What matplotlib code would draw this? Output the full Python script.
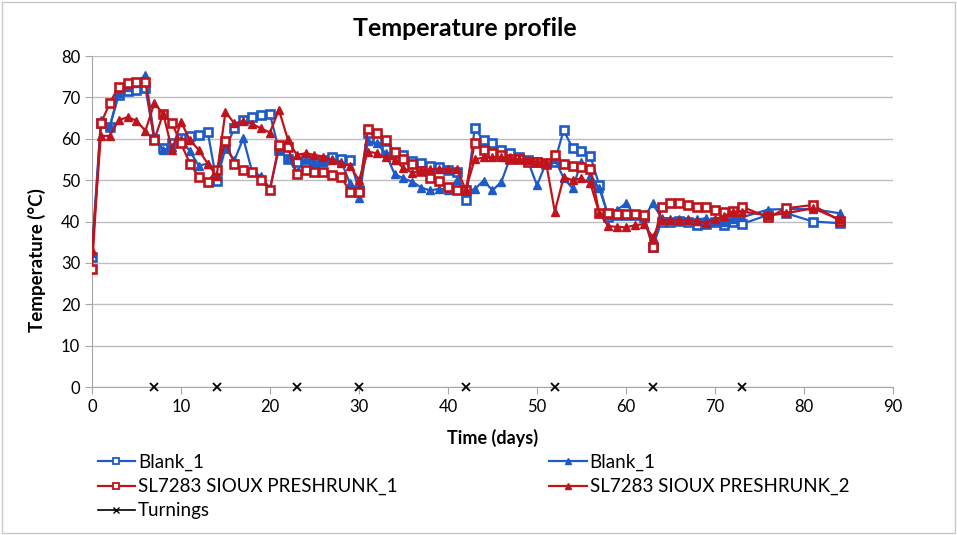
import matplotlib.pyplot as plt
from matplotlib.lines import Line2D
from matplotlib.patches import Rectangle

plt.rcParams['font.family'] = ['Lato', 'DejaVu Sans']

days = [0, 1, 2, 3, 4, 5, 6, 7, 8, 9, 10, 11, 12, 13, 14, 15, 16, 17, 18, 19,
        20, 21, 22, 23, 24, 25, 26, 27, 28, 29, 30, 31, 32, 33, 34, 35, 36, 37, 38, 39,
        40, 41, 42, 43, 44, 45, 46, 47, 48, 49, 50, 51, 52, 53, 54, 55, 56, 57, 58, 59,
        60, 61, 62, 63, 64, 65, 66, 67, 68, 69, 70, 71, 72, 73, 76, 78, 81, 84]

blank_sq = [31.5, 63.7, 62.9, 70.6, 71.6, 71.9, 72.3, 60.0, 57.7, 58.9, 60.3, 60.6, 60.9, 61.7, 49.8, 57.7, 62.5, 64.5, 65.3, 65.7,
            65.9, 57.4, 55.0, 54.5, 55.0, 54.5, 54.9, 55.5, 55.0, 54.9, 47.6, 61.5, 60.0, 57.5, 56.5, 56.1, 54.7, 54.2, 53.4, 53.1,
            52.5, 51.9, 45.2, 62.5, 59.7, 59.0, 57.4, 56.5, 55.5, 54.8, 54.5, 54.0, 54.5, 62.1, 57.7, 57.0, 55.8, 48.8, 41.2, 41.5,
            41.5, 41.6, 41.2, 33.8, 40.0, 40.0, 40.1, 40.0, 39.1, 39.5, 40.0, 39.1, 40.0, 39.4, 41.6, 42.0, 40.0, 39.6]

blank_tri = [32.5, 64.5, 63.0, 71.0, 72.5, 73.5, 75.4, 60.5, 57.3, 58.0, 60.0, 57.0, 53.5, 54.0, 51.5, 57.7, 54.8, 60.1, 52.0, 51.0,
             48.0, 57.4, 55.3, 52.0, 55.0, 54.5, 54.5, 55.0, 54.5, 49.2, 45.6, 59.5, 58.9, 56.5, 51.5, 50.4, 49.6, 48.2, 47.5, 47.9,
             47.7, 50.0, 47.3, 47.8, 49.9, 47.5, 49.6, 55.5, 55.0, 54.5, 48.8, 54.0, 55.0, 50.5, 48.0, 54.5, 51.0, 48.0, 41.6, 42.8,
             44.4, 41.6, 40.8, 44.4, 40.8, 40.5, 40.5, 40.5, 40.5, 40.8, 40.0, 40.0, 40.5, 41.0, 42.9, 43.0, 43.0, 42.0]

sioux_1 = [28.5, 63.7, 68.6, 72.6, 73.5, 73.8, 73.8, 59.7, 66.1, 63.7, 58.9, 54.0, 50.8, 49.6, 52.4, 59.4, 53.9, 52.4, 52.0, 50.0,
           47.6, 58.5, 58.0, 51.6, 52.4, 52.0, 52.0, 51.2, 50.7, 47.2, 47.2, 62.3, 61.5, 59.7, 56.9, 55.0, 53.8, 52.2, 50.6, 49.8,
           48.4, 47.7, 47.7, 58.9, 57.3, 56.5, 56.1, 55.2, 55.0, 54.5, 54.3, 54.1, 56.1, 54.0, 53.4, 53.1, 52.6, 42.1, 42.0, 41.9,
           41.8, 41.7, 41.6, 33.9, 43.6, 44.4, 44.4, 44.0, 43.6, 43.4, 42.9, 42.4, 42.6, 43.6, 41.0, 43.2, 44.0, 40.2]

sioux_2 = [33.0, 60.7, 60.7, 64.5, 65.2, 64.4, 61.9, 68.6, 66.1, 57.3, 64.1, 59.7, 57.3, 54.0, 51.0, 66.5, 63.7, 64.3, 63.6, 62.5,
           61.5, 67.0, 59.9, 56.1, 56.5, 56.1, 55.7, 54.9, 54.1, 53.4, 50.0, 56.9, 56.5, 55.5, 54.9, 52.9, 51.8, 52.4, 52.6, 52.8,
           52.6, 52.6, 47.7, 55.0, 55.5, 55.5, 55.5, 55.3, 55.0, 54.8, 54.5, 54.5, 42.4, 50.7, 50.0, 50.4, 49.2, 42.0, 38.9, 38.7,
           38.6, 39.1, 39.4, 36.2, 40.4, 40.4, 40.4, 40.3, 40.1, 39.7, 40.5, 41.3, 42.4, 42.4, 41.5, 42.0, 43.2, 40.5]

turn_days = [7, 14, 23, 30, 42, 52, 63, 73]
turn_vals = [0, 0, 0, 0, 0, 0, 0, 0]

blue = '#1F5BC6'
red = '#C0141C'

fig = plt.figure(figsize=(9.57, 5.35), dpi=100)
ax = fig.add_axes([0.0961, 0.2766, 0.8370, 0.6187])

ax.plot(days, blank_sq, color=blue, lw=1.6, marker='s', ms=5.5, mfc='white', mec=blue, mew=1.9, label='Blank_1', zorder=3)
ax.plot(days, blank_tri, color=blue, lw=1.6, marker='^', ms=6, mfc=blue, mec=blue, label='Blank_1', zorder=3)
ax.plot(days, sioux_1, color=red, lw=1.6, marker='s', ms=5.5, mfc='white', mec=red, mew=1.9, label='SL7283 SIOUX PRESHRUNK_1', zorder=4)
ax.plot(days, sioux_2, color=red, lw=1.6, marker='^', ms=6, mfc=red, mec=red, label='SL7283 SIOUX PRESHRUNK_2', zorder=4)
ax.plot(turn_days, turn_vals, ls='none', marker='x', ms=6, mew=1.3, color='black', clip_on=False, zorder=5)

ax.set_xlim(0, 90)
ax.set_ylim(0, 80)
ax.set_xticks(range(0, 91, 10))
ax.set_yticks(range(0, 81, 10))
ax.grid(axis='y', color='#BDBDBD', lw=1)
ax.set_axisbelow(True)
for s in ['top', 'right']:
    ax.spines[s].set_visible(False)
for s in ['left', 'bottom']:
    ax.spines[s].set_color('#A6A6A6')
ax.tick_params(axis='both', colors='#A6A6A6', labelcolor='black', labelsize=12, length=5)

fig.text(0.486, 0.946, 'Temperature profile', fontsize=18, fontweight='bold', ha='center', va='center')
ax.set_xlabel('Time (days)', fontsize=13, fontweight='bold', labelpad=10)
ax.set_ylabel('Temperature (°C)', fontsize=13.5, fontweight='bold')
ax.yaxis.set_label_coords(-0.058, 0.385)

h_b1 = Line2D([], [], color=blue, lw=1.6, marker='s', ms=4, mfc='white', mec=blue, mew=1.3)
h_b2 = Line2D([], [], color=blue, lw=1.6, marker='^', ms=4.5, mfc=blue, mec=blue)
h_r1 = Line2D([], [], color=red, lw=1.6, marker='s', ms=4, mfc='white', mec=red, mew=1.3)
h_r2 = Line2D([], [], color=red, lw=1.6, marker='^', ms=4.5, mfc=red, mec=red)
h_t = Line2D([], [], color='black', lw=1.2, marker='x', ms=5, mew=1)

leg_kw = dict(loc='upper left', frameon=False, fontsize=13.5, handlelength=2.0, handletextpad=0.15,
              labelspacing=0.38, borderaxespad=0, borderpad=0)
fig.legend([h_b1, h_r1, h_t], ['Blank_1', 'SL7283 SIOUX PRESHRUNK_1', 'Turnings'],
           bbox_to_anchor=(0.102, 0.152), **leg_kw)
fig.legend([h_b2, h_r2], ['Blank_1', 'SL7283 SIOUX PRESHRUNK_2'],
           bbox_to_anchor=(0.574, 0.152), **leg_kw)

fig.patches.append(Rectangle((0.002, 0.003), 0.996, 0.994, transform=fig.transFigure,
                             fill=False, edgecolor='#C8C8C8', lw=1))

fig.savefig('out.png', dpi=100)
